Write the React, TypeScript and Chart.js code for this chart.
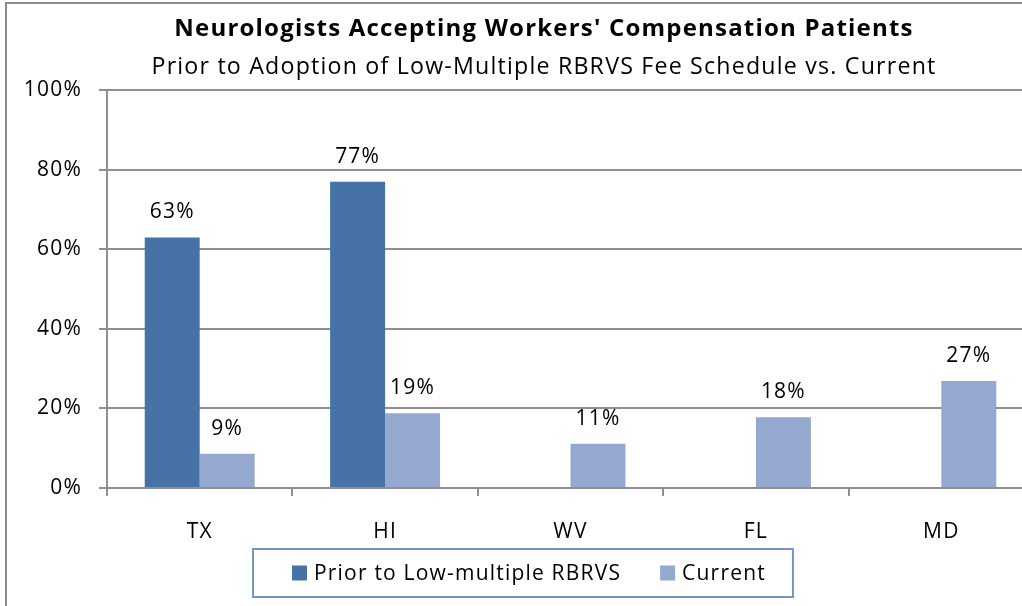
import React, { useEffect, useRef } from 'react';
import { Chart, registerables } from 'chart.js';

Chart.register(...registerables);

const categories = ['TX', 'HI', 'WV', 'FL', 'MD'];
const priorLabel = 'Prior to Low-multiple RBRVS';
const currentLabel = 'Current';
const priorValues: (number | null)[] = [63, 77, null, null, null];
const currentValues: number[] = [8.6, 18.8, 11.1, 17.8, 26.9];
const yTickValues = [0, 20, 40, 60, 80, 100];

const titleText = "Neurologists Accepting Workers' Compensation Patients";
const subtitleText = 'Prior to Adoption of Low-Multiple RBRVS Fee Schedule vs. Current';

const FONT = "'Open Sans', sans-serif";
const SPACING = '1.2px';
const DARK = '#4672a6';
const LIGHT = '#95a9d0';
const GRID = '#8f8f8f';

const spacingPlugin = {
  id: 'letterSpacing',
  beforeUpdate(chart: any) { chart.ctx.letterSpacing = SPACING; },
  beforeLayout(chart: any) { chart.ctx.letterSpacing = SPACING; },
  beforeDraw(chart: any) { chart.ctx.letterSpacing = SPACING; },
};

const valueLabelPlugin = {
  id: 'valueLabels',
  afterDatasetsDraw(chart: any) {
    const ctx = chart.ctx;
    ctx.save();
    ctx.font = `21px ${FONT}`;
    ctx.fillStyle = '#000';
    ctx.textAlign = 'center';
    ctx.textBaseline = 'alphabetic';
    chart.data.datasets.forEach((ds: any, i: number) => {
      const meta = chart.getDatasetMeta(i);
      meta.data.forEach((bar: any, j: number) => {
        const v = ds.data[j];
        if (v == null) return;
        ctx.fillText(Math.round(v) + '%', bar.x, bar.y - 19);
      });
    });
    ctx.restore();
  },
};

const boxLegendPlugin = {
  id: 'boxLegend',
  afterDraw(chart: any, _args: any, opts: any) {
    const ctx = chart.ctx;
    ctx.save();
    ctx.font = `21px ${FONT}`;
    const items = chart.data.datasets.map((ds: any) => ({
      text: ds.label,
      color: ds.backgroundColor,
      w: ctx.measureText(ds.label).width,
    }));
    const padL = 39, padR = 27, sw = 15, gap = 7, between = 39;
    let total = padL + padR;
    items.forEach((it: any, i: number) => {
      total += sw + gap + it.w + (i > 0 ? between : 0);
    });
    const left = opts.left;
    const top = opts.top;
    const h = opts.height;
    ctx.strokeStyle = '#7395c8';
    ctx.lineWidth = 2;
    ctx.strokeRect(left, top, total, h);
    let x = left + padL;
    const cy = top + h / 2;
    ctx.textBaseline = 'middle';
    ctx.textAlign = 'left';
    items.forEach((it: any) => {
      ctx.fillStyle = it.color;
      ctx.fillRect(x, cy - sw / 2, sw, sw);
      ctx.fillStyle = '#000';
      ctx.fillText(it.text, x + sw + gap, cy + 1);
      x += sw + gap + it.w + between;
    });
    ctx.restore();
  },
};

function BarChart() {
  const ref = useRef<HTMLCanvasElement>(null);
  useEffect(() => {
    if (!ref.current) return;
    const chart = new Chart(ref.current, {
      type: 'bar',
      data: {
        labels: categories,
        datasets: [
          { label: priorLabel, data: priorValues, backgroundColor: DARK, categoryPercentage: 0.593, barPercentage: 1 },
          { label: currentLabel, data: currentValues, backgroundColor: LIGHT, categoryPercentage: 0.593, barPercentage: 1 },
        ],
      },
      options: {
        responsive: false,
        animation: false,
        devicePixelRatio: 1,
        layout: { padding: { left: 0, right: 0, top: 0, bottom: 0 } },
        plugins: {
          legend: { display: false },
          tooltip: { enabled: false },
          title: {
            display: true,
            text: titleText,
            color: '#000',
            font: { family: FONT, size: 24, weight: 'bold', lineHeight: 1.2 },
            padding: { top: 11, bottom: 0 },
          },
          subtitle: {
            display: true,
            text: subtitleText,
            color: '#000',
            font: { family: FONT, size: 23.2, weight: 'normal', lineHeight: 1.2 },
            padding: { top: 9.4, bottom: 9.2 },
          },
          boxLegend: { left: 246, top: 545, height: 48 },
        } as any,
        scales: {
          x: {
            grid: { drawOnChartArea: false, drawTicks: true, tickLength: 8, color: GRID, lineWidth: 2, offset: true },
            border: { color: GRID, width: 2 },
            ticks: { color: '#000', font: { family: FONT, size: 21 }, padding: 23 },
            afterFit: (s: any) => { s.height = 156; },
          },
          y: {
            min: 0,
            max: 100,
            afterBuildTicks: (s: any) => { s.ticks = yTickValues.map((v) => ({ value: v })); },
            grid: { color: GRID, lineWidth: 2, tickLength: 8 },
            border: { color: GRID, width: 2 },
            ticks: {
              color: '#000',
              font: { family: FONT, size: 21 },
              padding: 17,
              callback: (v: any) => v + '%',
            },
            afterFit: (s: any) => { s.width = 100; },
          },
          rightSpace: {
            type: 'linear',
            position: 'right',
            display: true,
            grid: { display: false, drawOnChartArea: false },
            border: { display: false },
            ticks: { display: false },
            afterFit: (s: any) => { s.width = 47; },
          },
        } as any,
      },
      plugins: [spacingPlugin, valueLabelPlugin, boxLegendPlugin],
    });
    return () => chart.destroy();
  }, []);
  return <canvas ref={ref} width={1074} height={640} style={{ display: 'block', width: 1074, height: 640 }} />;
}

export default function App() {
  return (
    <div style={{ position: 'fixed', left: 0, top: 0, width: 1022, height: 606, overflow: 'hidden', background: '#fff' }}>
      <div style={{ position: 'absolute', left: 5, top: 2, width: 1076, height: 660, borderTop: '2px solid #8a8a8a', borderLeft: '2px solid #8a8a8a' }}>
        <BarChart />
      </div>
    </div>
  );
}
